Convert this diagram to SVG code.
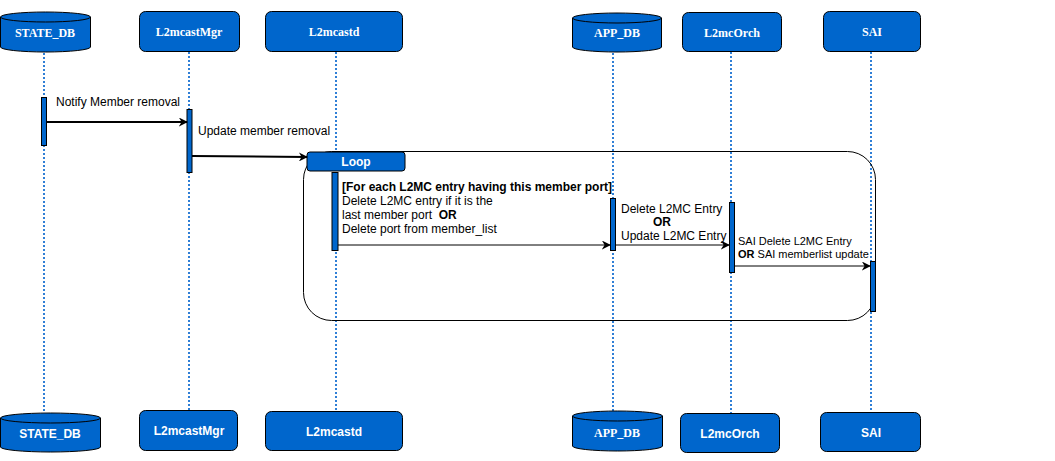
<svg xmlns="http://www.w3.org/2000/svg" width="1055" height="461" viewBox="0 0 1055 461">
<style>
.n{fill:#0066CC;stroke:#000;stroke-width:1}
.ts{font-family:"Liberation Serif",serif;font-weight:bold;font-size:12px;fill:#fff;text-anchor:middle}
.tb{font-family:"Liberation Sans",sans-serif;font-weight:bold;font-size:12px;fill:#fff;text-anchor:middle}
.life{stroke:#2F7FD6;stroke-width:2;stroke-dasharray:2 2;fill:none}
.act{fill:#0066CC;stroke:#000;stroke-width:1}
.lbl{font-family:"Liberation Sans",sans-serif;font-size:12px;fill:#000;white-space:pre}
.b{font-weight:bold}
.a2{stroke:#000;stroke-width:2;fill:none}
.a1{stroke:#000;stroke-width:1;fill:none}
</style>
<defs>
<marker id="ah" viewBox="0 0 10 10" refX="9" refY="5" markerWidth="9" markerHeight="9" markerUnits="userSpaceOnUse" orient="auto">
<path d="M0,0 L10,5 L0,10 L3,5 Z" fill="#000"/>
</marker>
</defs>
<g id="lifelines">
<line class="life" x1="44" y1="53" x2="44" y2="412"/>
<line class="life" x1="189" y1="52" x2="189" y2="410"/>
<line class="life" x1="336" y1="52" x2="336" y2="411"/>
<line class="life" x1="613" y1="53" x2="613" y2="411"/>
<line class="life" x1="731" y1="52" x2="731" y2="413"/>
<line class="life" x1="871" y1="52" x2="871" y2="412"/>
</g>
<g id="loop">
<rect x="303.5" y="151.5" width="572" height="169" rx="28" ry="28" fill="none" stroke="#000" stroke-width="1"/>
<rect x="307" y="152" width="98" height="19" rx="3" ry="3" class="n"/>
<text x="356" y="166" class="lbl b" style="fill:#fff;text-anchor:middle">Loop</text>
</g>
<g id="node-state-db-top">
<path class="n" d="M0.5,17 A45,5 0 0 1 90.5,17 L90.5,47 A45,5 0 0 1 0.5,47 Z"/>
<path d="M0.5,17 A45,5 0 0 0 90.5,17" fill="none" stroke="#000"/>
<text x="45" y="37" class="ts">STATE_DB</text>
</g>
<g id="node-l2mcastmgr-top">
<rect x="139.5" y="11.5" width="100" height="40" rx="6" class="n"/>
<text x="189" y="36" class="ts">L2mcastMgr</text>
</g>
<g id="node-l2mcastd-top">
<rect x="265.5" y="11.5" width="137" height="40" rx="6" class="n"/>
<text x="334" y="36" class="ts">L2mcastd</text>
</g>
<g id="node-app-db-top">
<path class="n" d="M572.5,18 A44.5,5 0 0 1 661.5,18 L661.5,47 A44.5,5 0 0 1 572.5,47 Z"/>
<path d="M572.5,18 A44.5,5 0 0 0 661.5,18" fill="none" stroke="#000"/>
<text x="617" y="37" class="ts">APP_DB</text>
</g>
<g id="node-l2mcorch-top">
<rect x="682.5" y="12.5" width="99" height="39" rx="6" class="n"/>
<text x="732" y="37" class="ts">L2mcOrch</text>
</g>
<g id="node-sai-top">
<rect x="823.5" y="11.5" width="97" height="40" rx="6" class="n"/>
<text x="872" y="36" class="ts">SAI</text>
</g>
<g id="node-state-db-bottom">
<path class="n" d="M0.5,418 A50,5 0 0 1 100.5,418 L100.5,447 A50,5 0 0 1 0.5,447 Z"/>
<path d="M0.5,418 A50,5 0 0 0 100.5,418" fill="none" stroke="#000"/>
<text x="50" y="438" class="tb">STATE_DB</text>
</g>
<g id="node-l2mcastmgr-bottom">
<rect x="139.5" y="410.5" width="98" height="40" rx="6" class="n"/>
<text x="189" y="435" class="tb">L2mcastMgr</text>
</g>
<g id="node-l2mcastd-bottom">
<rect x="265.5" y="411.5" width="137" height="39" rx="6" class="n"/>
<text x="334" y="436" class="tb">L2mcastd</text>
</g>
<g id="node-app-db-bottom">
<path class="n" d="M572.5,416 A45,5 0 0 1 662.5,416 L662.5,446 A45,5 0 0 1 572.5,446 Z"/>
<path d="M572.5,416 A45,5 0 0 0 662.5,416" fill="none" stroke="#000"/>
<text x="617" y="437" class="ts">APP_DB</text>
</g>
<g id="node-l2mcorch-bottom">
<rect x="680.5" y="413.5" width="99" height="39" rx="6" class="n"/>
<text x="730" y="438" class="tb">L2mcOrch</text>
</g>
<g id="node-sai-bottom">
<rect x="820.5" y="412.5" width="100" height="39" rx="6" class="n"/>
<text x="871" y="437" class="tb">SAI</text>
</g>
<g id="activations">
<rect class="act" x="41.5" y="97.5" width="5" height="48"/>
<rect class="act" x="187" y="109.5" width="5" height="63"/>
<rect class="act" x="332" y="172.5" width="6" height="78"/>
<rect class="act" x="610.5" y="198.5" width="5" height="52"/>
<rect class="act" x="729.5" y="202.5" width="5" height="70"/>
<rect class="act" x="870.5" y="261.5" width="5" height="50"/>
</g>
<g id="connectors">
<line class="a2" x1="47" y1="122" x2="187" y2="122" marker-end="url(#ah)"/>
<line class="a2" x1="192" y1="156" x2="307" y2="157" marker-end="url(#ah)"/>
<line class="a1" x1="338" y1="245" x2="610" y2="245" marker-end="url(#ah)"/>
<line class="a1" x1="616" y1="245" x2="729" y2="245" marker-end="url(#ah)"/>
<line class="a1" x1="735" y1="266" x2="870" y2="266" marker-end="url(#ah)"/>
</g>
<g id="labels">
<text x="56" y="106" class="lbl">Notify Member removal</text>
<text x="198" y="135" class="lbl">Update member removal</text>
<text x="342" y="191" class="lbl b">[For each L2MC entry having this member port]</text>
<text x="342" y="205" class="lbl">Delete L2MC entry if it is the</text>
<text x="342" y="219" class="lbl" xml:space="preserve">last member port  <tspan class="b">OR</tspan></text>
<text x="342" y="233" class="lbl">Delete port from member_list</text>
<text x="621" y="213" class="lbl">Delete L2MC Entry</text>
<text x="653" y="226" class="lbl b">OR</text>
<text x="621" y="240" class="lbl">Update L2MC Entry</text>
<text x="738" y="245" class="lbl" style="font-size:11px">SAI Delete L2MC Entry</text>
<text x="738" y="258" class="lbl" style="font-size:11px"><tspan class="b">OR</tspan> SAI memberlist update</text>
</g>
</svg>
